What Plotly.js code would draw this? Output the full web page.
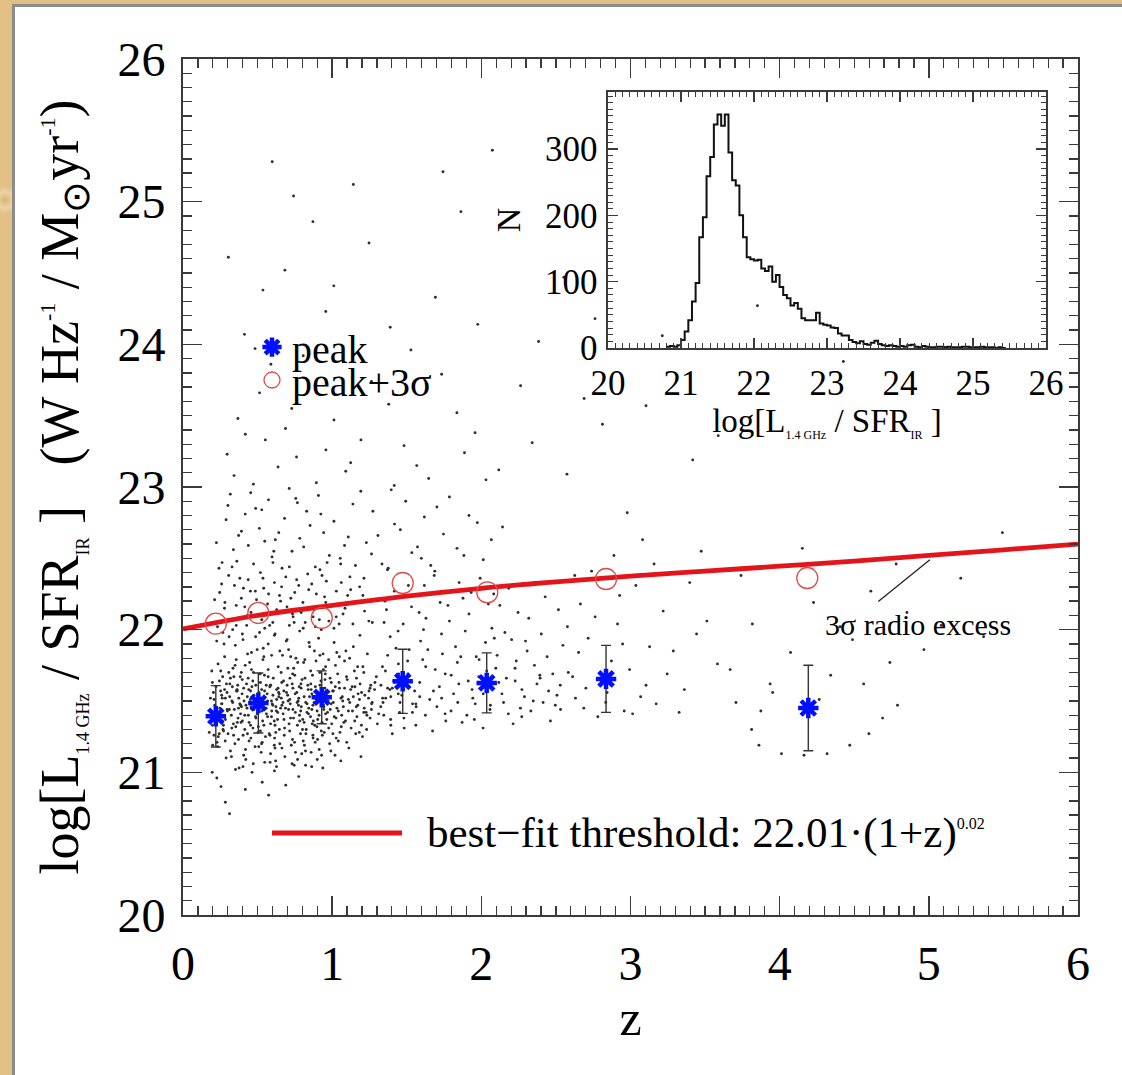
<!DOCTYPE html>
<html>
<head>
<meta charset="utf-8">
<script src="https://cdn.plot.ly/plotly-3.0.1.min.js"></script>
<style>
html,body{margin:0;padding:0;}
body{width:1122px;height:1075px;position:relative;overflow:hidden;
background:radial-gradient(circle at 5px 200px,#d9b374 0,#ecd3a3 8px,#e2c085 14px),linear-gradient(180deg,#e9cc96,#dcb77c 40%,#edd6aa 70%,#deba80);}
#panel{position:absolute;left:12px;top:4px;width:1110px;height:1071px;background:#fff;
border-left:3px solid #8c8c8c;border-top:3px solid #8c8c8c;box-sizing:border-box;}
#chart{position:absolute;left:0;top:0;width:1122px;height:1075px;}
</style>
</head>
<body>
<div id="panel"></div>
<div id="chart"></div>
<script>
// ---- peak points (blue asterisks) and their sigma ----
const peakZ   = [0.22, 0.505, 0.93, 1.473, 2.036, 2.836, 4.192];
const peakL   = [21.393, 21.486, 21.526, 21.638, 21.627, 21.655, 21.451];
const peakErr = [0.215, 0.21, 0.185, 0.225, 0.21, 0.235, 0.30];
// ---- peak + 3 sigma (red open circles) ----
const sigZ = [0.22, 0.505, 0.93, 1.473, 2.04, 2.836, 4.185];
const sigL = [22.042, 22.117, 22.082, 22.327, 22.262, 22.355, 22.362];
// ---- best-fit threshold curve ----
const threshZ = [0, 0.5, 1, 1.5, 2, 2.5, 3, 3.5, 4, 4.5, 5, 5.5, 6];
const threshL = [22.005, 22.10, 22.17, 22.235, 22.29, 22.335, 22.375, 22.41, 22.445, 22.48, 22.52, 22.56, 22.60];
// ---- inset histogram: bin lower edges start / width and counts ----
const histStart = 20.80, histWidth = 0.05;
const histCounts = [2,3,2,4,12,25,42,70,98,167,197,259,288,337,352,335,352,295,253,245,
  200,167,137,134,132,133,120,116,123,100,110,92,80,75,64,68,59,45,42,42,
  42,53,37,35,34,31,30,22,19,19,12,9,7,10,6,5,8,11,6,4,
  3,4,3,2,3,2,4,5,2,1,3,2,1,1,2,2,1,2,1,1,
  1,2,2,1,1,1,2,1,1,1,0,1,0];
// ---- individual galaxies (z, log L/SFR) ----
const dotsCore = [
[0.213,21.47],[0.587,21.13],[0.941,21.72],[0.362,21.58],[1.127,21.31],[0.708,21.86],[0.455,21.24],[0.823,21.49],[1.046,21.63],[0.279,21.81],
[0.634,21.37],[0.991,21.15],[0.517,21.69],[0.176,21.28],[1.219,21.54],[0.768,21.09],[0.402,21.93],[0.883,21.33],[0.325,21.11],[1.083,21.78],
[0.659,21.52],[0.244,21.64],[0.956,21.41],[0.538,21.87],[0.806,21.22],[1.162,21.46],[0.389,21.35],[0.717,21.66],[0.471,21.06],[1.008,21.57],
[0.298,21.43],[0.845,21.91],[0.612,21.19],[0.927,21.29],[0.193,21.71],[1.254,21.38],[0.564,21.55],[0.737,21.44],[0.426,21.62],[1.112,21.17],
[0.351,21.89],[0.679,21.26],[0.868,21.68],[0.505,21.32],[1.031,21.84],[0.232,21.18],[0.792,21.59],[0.973,21.5],[0.447,21.77],[1.187,21.62],
[0.621,21.08],[0.313,21.53],[0.859,21.14],[0.703,21.73],[1.064,21.4],[0.487,21.95],[0.264,21.36],[0.918,21.61],[0.578,21.27],[1.236,21.83],
[0.381,21.48],[0.748,21.21],[0.536,21.79],[0.997,21.34],[0.204,21.56],[0.831,21.42],[1.142,21.88],[0.662,21.63],[0.419,21.16],[0.892,21.51],
[0.307,21.7],[0.593,21.39],[1.019,21.12],[0.774,21.47],[0.462,21.6],[1.203,21.25],[0.226,21.92],[0.646,21.3],[0.939,21.83],[0.548,21.07],
[0.839,21.58],[0.372,21.23],[1.096,21.67],[0.687,21.45],[0.289,21.1],[0.964,21.37],[0.512,21.52],[1.171,21.74],[0.726,21.19],[0.438,21.4],
[0.881,21.85],[0.247,21.45],[0.605,21.66],[1.052,21.28],[0.349,21.75],[0.812,21.35],[0.571,21.9],[0.983,21.2],[0.184,21.52],[1.268,21.49],
[0.694,21.56],[0.414,21.3],[0.863,21.04],[0.529,21.43],[1.124,21.58],[0.266,21.67],[0.757,21.8],[0.942,21.47],[0.483,21.18],[0.638,21.74],
[0.339,21.26],[1.037,21.69],[0.796,21.13],[0.558,21.61],[0.217,21.34],[0.909,21.94],[0.671,21.41],[1.196,21.33],[0.397,21.65],[0.824,21.27],
[0.452,21.51],[0.613,21.96],[1.075,21.46],[0.283,21.22],[0.741,21.38],[0.951,21.59],[0.524,21.14],[1.149,21.71],[0.364,21.57],[0.798,21.65],
[0.587,21.34],[0.235,21.76],[0.872,21.24],[1.013,21.91],[0.429,21.45],[0.683,21.11],[0.314,21.62],[0.966,21.53],[0.546,21.68],[1.228,21.42],
[0.772,21.5],[0.497,21.86],[0.855,21.39],[0.199,21.19],[0.628,21.58],[1.089,21.36],[0.376,21.03],[0.917,21.7],[0.715,21.29],[0.468,21.64],
[1.174,21.55],[0.259,21.48],[0.809,21.77],[0.553,21.25],[0.987,21.44],[0.341,21.67],[0.667,21.82],[1.041,21.22],[0.443,21.35],[0.887,21.6],
[0.602,21.47],[0.221,21.6],[0.754,21.14],[1.117,21.8],[0.509,21.56],[0.934,21.26],[0.386,21.41],[0.698,21.93],[1.259,21.61],[0.318,21.15],
[0.843,21.45],[0.571,21.72],[0.272,21.29],[1.007,21.49],[0.649,21.2],[0.459,21.84],[0.903,21.37],[1.158,21.27],[0.732,21.62],[0.396,21.55],
[0.531,21.21],[0.818,21.66],[0.186,21.4],[0.976,21.79],[0.626,21.43],[1.068,21.53],[0.354,21.32],[0.781,21.4],[0.478,21.49],[0.929,21.12],
[0.252,21.57],[1.212,21.7],[0.594,21.82],[0.711,21.34],[0.432,21.27],[0.864,21.55],[1.026,21.38],[0.309,21.95],[0.676,21.57],[0.541,21.46],
[0.952,21.65],[0.407,21.12],[1.136,21.43],[0.763,21.56],[0.238,21.39],[0.617,21.17],[0.892,21.78],[0.519,21.63],[1.049,21.59],[0.333,21.49],
[0.745,21.05],[0.489,21.38],[0.969,21.42],[0.658,21.7],[1.183,21.51],[0.291,21.62],[0.826,21.3],[0.567,21.5],[0.417,21.75],[0.902,21.23],
[0.708,21.44],[1.101,21.65],[0.208,21.26],[0.586,21.61],[0.849,21.88],[0.369,21.38],[1.247,21.57],[0.642,21.53],[0.932,21.35],[0.472,21.7],
[0.788,21.27],[0.275,21.9],[1.059,21.52],[0.534,21.36],[0.994,21.63],[0.344,21.44],[0.722,21.81],[0.614,21.24],[1.166,21.39],[0.441,21.58],
[0.871,21.47],[0.197,21.63],[0.677,21.37],[0.958,21.57],[0.503,21.28],[1.092,21.85],[0.392,21.46],[0.812,21.53],[0.559,21.41],[1.231,21.3],
[0.263,21.52],[0.735,21.69],[0.913,21.16],[0.453,21.33],[1.022,21.75],[0.628,21.51],[0.327,21.31],[0.857,21.62],[0.584,21.07],[1.153,21.6],
[0.243,21.27],[0.671,21.49],[0.918,21.82],[0.384,21.67],[1.142,21.53],[0.527,21.2],[0.803,21.37],[0.295,21.56],[1.027,21.24],[0.649,21.85],
[0.476,21.44],[0.859,21.58],[1.215,21.45],[0.338,21.34],[0.742,21.73],[0.582,21.6],[0.993,21.48],[0.209,21.41],[0.886,21.21],[0.431,21.53],
[1.078,21.35],[0.622,21.28],[0.357,21.79],[0.776,21.52],[0.954,21.69],[0.505,21.46],[1.182,21.28],[0.268,21.3],[0.698,21.61],[0.841,21.41],
[0.459,21.72],[1.041,21.43],[0.593,21.5],[0.318,21.66],[0.767,21.33],[1.254,21.59],[0.414,21.4],[0.921,21.55],[0.542,21.33],[0.663,21.17],
[0.236,21.25],[0.817,21.79],[1.109,21.51],[0.372,21.45],[0.977,21.31],[0.488,21.61],[0.719,21.48],[0.284,21.37],[0.603,21.54],[1.163,21.66],
[0.866,21.34],[0.521,21.52],[0.403,21.26],[0.791,21.62],[1.003,21.57],[0.635,21.42],[0.328,21.5],[0.944,21.46],[0.567,21.39],[0.752,21.55],
[0.197,21.33],[0.856,21.71],[0.421,21.09],[1.338,21.52],[0.663,21.47],[0.279,21.58],[1.014,21.39],[0.542,21.81],[0.734,21.23],[1.472,21.66],
[0.311,21.44],[0.947,21.28],[0.588,21.61],[1.206,21.74],[0.398,21.36],[0.821,21.15],[1.561,21.48],[0.476,21.54],[0.692,21.92],[1.109,21.43],
[0.253,21.71],[0.879,21.49],[1.403,21.27],[0.617,21.33],[0.367,21.61],[1.048,21.81],[0.753,21.42],[0.508,21.18],[1.287,21.63],[0.964,21.56],
[0.219,21.44],[1.516,21.86],[0.645,21.55],[0.433,21.83],[0.801,21.3],[1.172,21.47],[0.348,21.2],[0.912,21.4],[1.357,21.71],[0.571,21.67],
[0.284,21.52],[0.769,21.77],[1.098,21.21],[0.456,21.46],[1.443,21.55],[0.627,21.04],[0.874,21.36],[0.335,21.73],[1.233,21.4],[0.519,21.29],
[0.986,21.66],[0.705,21.5],[0.241,21.38],[1.392,21.37],[0.598,21.48],[0.837,21.61],[0.407,21.59],[1.134,21.6],[0.681,21.31],[1.587,21.53],
[0.302,21.27],[0.928,21.51],[0.557,21.45],[1.265,21.48],[0.749,21.68],[0.443,21.22],[1.061,21.32],[0.374,21.52],[0.814,21.19],[1.481,21.38],
[0.637,21.59],[0.228,21.21],[0.899,21.43],[1.197,21.56],[0.527,21.58],[0.782,21.36],[1.326,21.46],[0.469,21.31],[0.956,21.74],[0.324,21.4],
[0.716,21.51],[1.419,21.63],[0.583,21.26],[1.083,21.59],[0.261,21.48],[0.848,21.53],[0.391,21.7],[1.538,21.42],[0.654,21.45],[1.005,21.27],
[0.497,21.41],[0.793,21.46],[1.303,21.34],[0.358,21.57],[0.925,21.64],[0.612,21.36],[1.151,21.36],[0.437,21.66],[0.737,21.59],[1.372,21.59],
[0.208,21.51],[0.871,21.26],[0.546,21.52],[1.244,21.52],[0.674,21.64],[0.422,21.47],[1.032,21.45],[0.789,21.43],[0.296,21.44],[1.455,21.49],
[0.595,21.43],[0.969,21.52],[0.364,21.35],[1.118,21.49],[0.721,21.38],[0.514,21.5],[1.346,21.4],[0.832,21.48],[0.453,21.57],[0.271,21.33],
[0.641,21.56],[1.021,21.6],[0.386,21.47],[0.898,21.32],[1.212,21.42],[0.562,21.48],[0.765,21.49],[0.331,21.6],[1.393,21.53],[0.486,21.39],
[0.944,21.44],[0.702,21.54],[1.071,21.5],[0.259,21.54],[0.623,21.46],[0.864,21.44],[1.284,21.58],[0.409,21.5],[0.547,21.57],[0.779,21.6]
];
const dotsUpperCore = [
[0.231,22.02],[0.567,22.18],[0.914,22.07],[0.345,22.31],[0.782,21.99],[1.104,22.24],[0.456,22.12],[0.689,22.37],[1.012,22.01],[0.278,22.15],
[0.843,22.28],[0.602,22.05],[1.217,22.13],[0.391,22.22],[0.738,22.09],[0.961,22.34],[0.513,21.98],[1.139,22.04],[0.306,22.38],[0.654,22.2],
[0.879,22.14],[0.427,22.03],[1.061,22.33],[0.749,22.26],[0.212,22.21],[0.536,22.36],[0.993,22.17],[0.617,21.97],[1.184,22.3],[0.368,22.08],
[0.804,22.19],[0.485,22.27],[0.927,22.0],[0.259,22.32],[1.073,22.11],[0.713,22.03],[0.574,22.25],[0.836,22.39],[1.246,22.06],[0.414,22.16],
[0.661,22.3],[0.949,22.23],[0.333,22.0],[1.119,22.37],[0.792,22.12],[0.528,22.07],[0.887,22.02],[0.437,22.35],[1.028,22.27],[0.628,22.14],
[0.284,22.06],[0.762,22.35],[1.161,22.19],[0.493,22.21],[0.978,22.06],[0.357,22.17],[0.697,22.16],[0.863,22.32],[0.548,22.01],[1.206,22.24],
[0.405,22.29],[0.819,22.05],[0.613,22.33],[1.086,22.15],[0.246,22.26],[0.932,22.38],[0.723,22.22],[0.468,22.09],[1.047,22.04],[0.381,22.36],
[0.267,21.98],[0.734,22.11],[1.186,21.96],[0.452,22.27],[1.629,22.08],[0.918,22.42],[0.581,22.03],[1.354,22.2],[0.329,22.44],[0.806,22.01],
[1.511,22.31],[0.647,22.24],[1.057,22.46],[0.398,21.97],[1.776,22.17],[0.872,22.09],[0.519,22.4],[1.269,22.05],[0.713,22.44],[1.932,22.26],
[0.281,22.19],[1.124,22.28],[0.603,22.47],[1.442,21.99],[0.957,22.19],[0.432,22.1],[1.688,22.41],[0.776,22.31],[1.213,22.36],[0.357,22.03],
[2.047,22.18],[0.664,22.12],[1.376,22.43],[0.894,22.25],[0.541,22.29],[1.583,22.12],[0.241,22.43],[1.027,22.09],[0.745,22.05],[1.851,22.33]
];
const dotsHigh = [
[0.262,22.47],[0.619,22.63],[0.981,22.52],[0.417,22.81],[1.334,22.46],[0.756,22.92],[1.572,22.58],[0.512,22.71],[1.139,22.88],[0.338,22.56],
[0.887,22.44],[1.746,22.67],[0.681,22.78],[1.264,22.53],[0.454,22.96],[2.013,22.49],[0.943,22.68],[0.597,22.51],[1.418,22.74],[0.301,22.87],
[1.083,22.59],[0.829,22.83],[1.661,22.45],[0.548,22.62],[1.917,22.8],[0.392,22.69],[1.192,22.97],[0.731,22.55],[1.493,22.9],[0.224,22.61],
[1.012,22.76],[0.664,22.43],[1.837,22.57],[0.487,22.85],[1.307,22.66],[0.908,22.94],[0.361,22.48],[1.618,22.79],[0.783,22.64],[2.142,22.72],
[0.573,22.91],[1.371,22.42],[1.054,22.5],[0.438,22.59],[1.786,22.93],[0.852,22.73],[0.289,22.77],[1.229,22.61],[0.712,22.99],[1.534,22.54],
[0.966,22.47],[0.528,22.84],[2.067,22.63],[1.457,22.7],[0.317,22.95],[1.156,22.45],[0.642,22.68],[1.883,22.52],[0.809,22.58],[1.702,22.86],
[0.473,22.46],[1.396,22.98],[0.924,22.81],[0.609,22.55],[1.973,22.75],[1.273,22.83],[0.373,22.66],[1.598,22.5],[0.767,22.89],[1.108,22.65],
[0.342,23.08],[0.687,23.41],[1.124,23.17],[0.513,23.66],[1.482,23.29],[0.894,23.03],[1.836,23.52],[0.418,23.37],[1.263,23.74],[0.761,23.21],
[2.117,23.12],[0.589,23.86],[1.647,23.06],[1.012,23.47],[2.341,23.31],[0.296,23.23],[1.379,23.58],[0.843,23.69],[1.958,23.38],[0.637,23.14],
[2.574,23.09],[1.193,23.33],[0.472,23.02],[1.734,23.79],[2.812,23.44],[0.958,23.26],[1.567,23.15],[3.104,23.57],[0.729,23.55],[2.263,23.71],
[1.416,23.01],[0.368,23.48],[3.417,23.19],[1.887,23.24],[0.552,23.33],[2.689,23.62],[1.091,23.11],[0.806,23.92],[2.031,23.05],[3.588,23.36],
[0.412,24.07],[0.957,24.23],[1.528,23.96],[0.683,24.52],[1.976,24.14],[1.247,24.71],[0.536,24.38],[2.384,24.02],[0.871,24.86],[1.692,24.33],
[2.762,24.18],[0.304,24.61],[1.142,25.12],[3.213,24.06],[0.741,25.04],[1.863,24.93],[2.553,24.47],[1.389,24.12],[0.598,25.28],[2.074,25.36],
[3.851,24.27],[1.011,24.41],[4.427,23.88],[0.483,23.97],[1.743,25.21]
];
const dotsMid = [
[1.312,21.41],[1.587,21.63],[1.943,21.52],[2.234,21.78],[1.428,21.87],[1.762,21.36],[2.087,21.94],[2.451,21.57],[1.364,22.14],[1.691,21.72],
[2.012,21.31],[2.318,22.08],[1.539,21.48],[1.877,22.22],[2.168,21.66],[2.547,21.89],[1.403,21.59],[1.733,21.97],[2.058,21.44],[2.392,21.68],
[1.618,22.31],[1.966,21.81],[2.271,21.39],[1.337,21.74],[1.814,21.55],[2.124,22.17],[2.496,21.47],[1.476,22.04],[1.849,21.62],[2.203,21.93],
[1.561,21.33],[1.917,22.11],[2.356,21.75],[1.389,21.95],[1.702,21.46],[2.036,21.71],[2.577,22.02],[1.641,21.86],[1.992,22.36],[2.289,21.53],
[1.452,21.42],[1.786,22.06],[2.149,21.49],[2.428,22.23],[1.327,21.61],[1.673,21.29],[2.071,22.01],[2.332,21.43],[1.506,21.78],[1.903,21.4],
[2.246,22.12],[2.529,21.61],[1.417,22.27],[1.758,21.69],[2.106,21.82],[2.463,21.36],[1.593,21.92],[1.938,21.58],[2.213,21.34],[1.359,21.52],
[1.827,21.88],[2.184,22.29],[2.402,21.97],[1.532,22.16],[1.871,21.35],[2.052,21.6],[2.517,22.14],[1.446,21.69],[1.724,22.19],[2.307,21.85],
[1.654,21.51],[2.028,21.91],[2.373,21.62],[1.483,21.31],[1.839,21.77],[2.138,21.55],[2.583,21.7],[1.372,21.82],[1.719,21.6],[2.262,21.45],
[1.612,22.0],[1.959,21.48],[2.441,21.81],[1.348,22.05],[1.684,22.38],[2.097,21.73],[2.354,22.33],[1.553,21.57],[1.892,21.99],[2.227,21.64],
[1.467,21.54],[1.797,21.43],[2.158,21.98],[2.507,21.54],[1.393,21.33],[1.739,21.83],[2.083,22.25],[2.414,21.49],[1.627,21.74],[1.983,21.67],
[1.263,21.44],[1.734,21.52],[2.181,21.41],[1.508,21.69],[1.953,21.37],[2.394,21.66],[1.387,21.58],[1.862,21.81],[2.272,21.58],[1.625,21.4],
[2.117,21.63],[1.444,21.76],[2.531,21.44],[1.798,21.68],[1.296,21.67],[2.013,21.55],[1.679,21.57],[2.348,21.5],[1.563,21.46],[2.226,21.73],
[1.912,21.64],[1.341,21.49],[2.479,21.69],[1.757,21.41],[2.061,21.47],[1.607,21.79],[1.413,21.64],[2.296,21.92],[1.985,21.79],[1.842,21.49],
[2.631,21.52],[2.872,21.78],[3.104,21.61],[2.716,21.94],[2.958,21.43],[3.287,21.85],[2.664,22.18],[2.913,22.04],[3.172,21.48],[3.443,21.97],
[2.781,21.39],[3.036,22.31],[2.612,21.67],[2.843,21.56],[3.219,22.13],[2.739,22.41],[2.994,21.72],[3.361,21.58],[2.687,21.45],[2.927,22.24],
[3.128,21.88],[3.512,22.06],[2.806,21.63],[3.068,21.53],[2.652,21.84],[3.246,21.69],[2.889,22.52],[3.397,22.33],[2.763,22.09],[3.014,21.41],
[3.158,22.46],[2.701,21.59],[2.947,21.9],[3.326,21.42],[2.834,21.49],[3.583,21.76],[2.626,22.38],[3.081,22.63],[2.978,22.82],[3.474,22.55]
];
const dotsFar = [
[3.861,21.19],[4.012,21.13],[4.163,21.12],[4.318,21.13],[4.47,21.19],[4.598,21.27],[4.69,21.38],[4.79,21.47],
[3.812,21.3],[3.953,21.56],[3.668,21.72],[3.817,22.04],[3.936,21.62],[4.073,21.84],[4.227,22.19],[4.342,21.68],
[4.488,21.93],[4.611,22.27],[4.739,21.77],[4.853,22.12],[4.967,21.86],[3.741,22.38],[4.152,22.57],[4.404,22.02],
[4.781,22.46],[5.083,22.03],[5.214,22.36],[5.367,21.95],[5.493,22.68],[3.874,21.43],[4.563,21.62],[3.707,21.49],[4.265,21.51]
];
const dotsLow = [
[0.227,20.96],[0.418,20.88],[0.613,21.01],[0.284,20.79],[0.776,20.97],[0.352,21.02],[0.531,20.93],[0.937,21.03],[0.196,21.0],[0.689,20.91],
[0.463,21.0],[1.058,21.08],[0.255,20.9],[0.822,21.05],[0.574,20.84],[0.312,20.71],[1.193,21.11],[0.402,21.04],[0.731,21.06],[0.9,21.09]
];
// ---- axis tick labels ----
const mainXTicks = [0,1,2,3,4,5,6];
const mainYTicks = [20,21,22,23,24,25,26];
const insetXTicks = [20,21,22,23,24,25,26];
const insetYTicks = [0,100,200,300];

const dots = [].concat(dotsLow, dotsCore, dotsUpperCore, dotsMid, dotsHigh, dotsFar);

// histogram step coordinates from bins
const histX = [], histY = [];
histCounts.forEach((c,i)=>{ histX.push(histStart + i*histWidth); histY.push(c); });
histX.push(histStart + histCounts.length*histWidth); histY.push(histCounts[histCounts.length-1]);

const FONT = 'Liberation Serif, Times New Roman, serif';
const AX = '#3a3a3a';

const traces = [
  {x: dots.map(d=>d[0]), y: dots.map(d=>d[1]), type:'scatter', mode:'markers',
   marker:{size:2.9, color:'#2e2e2e'}, showlegend:false, hoverinfo:'skip'},
  {x: threshZ, y: threshL, type:'scatter', mode:'lines', line:{color:'#e3151b', width:4.8, shape:'spline'},
   showlegend:false},
  {x: peakZ, y: peakL, type:'scatter', mode:'markers', name:'peak', legend:'legend',
   error_y:{type:'data', array:peakErr, visible:true, color:'#333', thickness:1.4, width:5},
   marker:{symbol:'asterisk-open', size:17, color:'#0010ff', line:{color:'#0010ff', width:4.5}}},
  {x: sigZ, y: sigL, type:'scatter', mode:'markers', name:'peak+3σ', legend:'legend2',
   marker:{symbol:'circle-open', size:21, color:'#e04a46', line:{color:'#e04a46', width:1.3}}},
  {x: histX, y: histY, xaxis:'x2', yaxis:'y2', type:'scatter', mode:'lines',
   line:{shape:'hv', color:'#111', width:2}, showlegend:false}
];

const axBase = {showgrid:false, zeroline:false, showline:true, linecolor:AX, linewidth:2,
  ticks:'inside', mirror:'ticks', tickcolor:AX, tickwidth:1.6};

const SUBL = '<span style="font-size:18px">';
const SUPL = '<span style="font-size:22px">';
const layout = {
  width:1122, height:1075,
  margin:{l:183, r:44, t:59, b:160, pad:0},
  paper_bgcolor:'rgba(0,0,0,0)', plot_bgcolor:'rgba(0,0,0,0)',
  font:{family:FONT, color:'#000'},
  xaxis:Object.assign({}, axBase, {range:[0,6], tickvals:mainXTicks, ticklen:19,
    minor:{dtick:0.1, ticklen:9, ticks:'inside', tickcolor:AX, tickwidth:1.3},
    tickfont:{family:FONT, size:48}, ticklabelstandoff:5,
    title:{text:'z', font:{family:FONT, size:50}, standoff:2}}),
  yaxis:Object.assign({}, axBase, {range:[20,26], tickvals:mainYTicks, ticklen:19,
    minor:{dtick:0.1, ticklen:9, ticks:'inside', tickcolor:AX, tickwidth:1.3},
    tickfont:{family:FONT, size:48}, ticklabelstandoff:6,
    title:{text:'log[L<sub>'+SUBL+'1.4 GHz</span></sub> / SFR<sub>'+SUBL+'IR</span></sub> ]\u00a0\u00a0\u00a0(W Hz<sup>'+SUPL+'-1</span></sup> / M<sub>⊙</sub>yr<sup>'+SUPL+'-1</span></sup>)',
      font:{family:FONT, size:54}, standoff:22}}),
  xaxis2:Object.assign({}, axBase, {domain:[0.4749,0.9642], anchor:'y2', range:[20,26],
    tickvals:insetXTicks, ticklen:10, linewidth:1.6, tickwidth:1.3,
    minor:{dtick:0.1, ticklen:5, ticks:'inside', tickcolor:AX, tickwidth:1},
    tickfont:{family:FONT, size:35}, ticklabelstandoff:3,
    title:{text:'log[L<sub><span style="font-size:12px">1.4 GHz</span></sub> / SFR<sub><span style="font-size:12px">IR</span></sub> ]',
      font:{family:FONT, size:33}, standoff:0}}),
  yaxis2:Object.assign({}, axBase, {domain:[0.6624,0.9614], anchor:'x2', range:[0,386],
    tickvals:insetYTicks, ticklen:10, linewidth:1.6, tickwidth:1.3,
    minor:{dtick:10, ticklen:5, ticks:'inside', tickcolor:AX, tickwidth:1},
    tickfont:{family:FONT, size:35}, ticklabelstandoff:2,
    title:{text:'N', font:{family:FONT, size:34}, standoff:14}}),
  legend:{x:0.0771, y:0.6635, xanchor:'left', yanchor:'middle', bgcolor:'rgba(0,0,0,0)',
    font:{family:FONT, size:40}, borderwidth:0},
  legend2:{x:0.0771, y:0.625, xanchor:'left', yanchor:'middle', bgcolor:'rgba(0,0,0,0)',
    font:{family:FONT, size:40}, borderwidth:0},
  shapes:[
    {type:'line', xref:'paper', yref:'paper', x0:0.0994, x1:0.2447, y0:0.0958, y1:0.0958,
     line:{color:'#e3151b', width:5}},
    {type:'line', xref:'x', yref:'y', x0:4.661, y0:22.198, x1:5.007, y1:22.49,
     line:{color:'#222', width:1.3}}
  ],
  annotations:[
    {xref:'paper', yref:'paper', x:0.2704, y:0.0958, xanchor:'left', yanchor:'middle', showarrow:false,
     text:'best\u2212fit threshold: 22.01\u00b7(1+z)<sup><span style="font-size:16px">0.02</span></sup>',
     font:{family:FONT, size:43}},
    {xref:'x', yref:'y', x:4.93, y:22.035, xanchor:'center', yanchor:'middle', showarrow:false,
     text:'3σ radio excess', font:{family:FONT, size:30}}
  ]
};

Plotly.newPlot('chart', traces, layout, {displayModeBar:false, staticPlot:true});
</script>
</body>
</html>
